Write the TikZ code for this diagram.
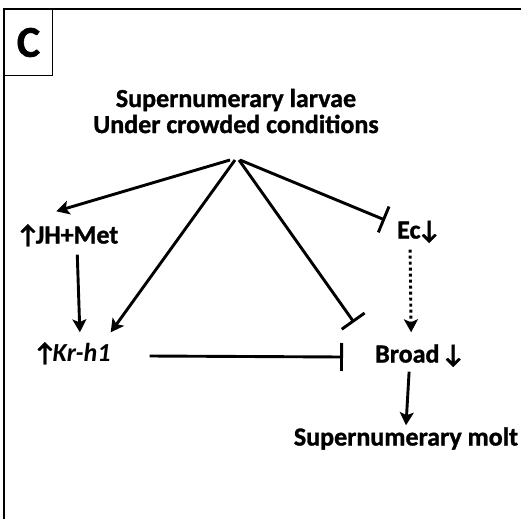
\documentclass[tikz,border=0pt]{standalone}
\usepackage{fontspec}
\setmainfont{Carlito}[BoldFeatures={FakeBold=1.2}]
\usetikzlibrary{arrows.meta,calc,positioning}
\tikzset{
  lbl/.style={font=\bfseries\fontsize{26}{27}\selectfont,inner sep=0pt,text height=18pt,text depth=5pt},
  act/.style={line width=2.9pt,-{Stealth[length=13pt,width=14pt,inset=3pt]}},
  inh/.style={line width=2.9pt,-{Bar[width=28pt]}},
}
\newcommand{\upar}{↑\kern-4pt}
\newcommand{\dnar}{\kern-3pt↓}

\begin{document}
\begin{tikzpicture}[x=1pt,y=1pt]
    \useasboundingbox (0,0) rectangle (521,-519);
    % panel frame and letter
    \draw[line width=1.5pt] (4,-519) |- (521,-9);
    \node[draw,line width=1pt,minimum width=48pt,minimum height=66pt,anchor=north west,
          font=\bfseries\fontsize{44}{44}\selectfont] (panel) at (4,-9) {C};

    \node[font=\bfseries\fontsize{26}{26}\selectfont,align=center,inner sep=0pt] (larvae) at (236,-111)
        {Supernumerary larvae\\Under crowded conditions};
    \coordinate (hub) at (235,-160);

    \node[lbl,anchor=west] (jh) at (16,-237) {\upar JH+Met};
    \node[lbl,anchor=west] (kr) at (33,-355) {\upar\textit{Kr-h1}};
    \node[lbl,anchor=west] (ec) at (397,-232) {Ec\dnar};
    \node[lbl,anchor=west] (broad) at (375,-356) {Broad\kern2pt↓};
    \node[lbl] (molt) at (406,-439) {Supernumerary molt};

    % hub connectors
    \draw[act] ([xshift=-5pt]hub) -- ($(jh.north)+(-11,14)$);
    \draw[act] (hub) -- ($(kr.north east)+(0,11)$);
    \draw[inh] ([xshift=4pt]hub) -- ($(broad.north west)+(-21,22)$);
    \draw[inh] ([xshift=5pt]hub) -- ($(ec.west)+(-12,12)$);

    % pathway
    \draw[act] ($(jh.south)+(10,-6)$) -- ($(kr.north)+(8,11)$);
    \draw[inh] ($(kr.east)+(39,-1)$) -- ($(broad.west)+(-32,-1)$);
    \draw[act,dash pattern=on 3pt off 3pt] ($(ec.south)+(-9,-6)$) -- ($(broad.north)+(-9,12)$);
    \draw[act] ($(broad.south)+(-11,-4)$) -- ($(molt.north)+(0,2)$);
\end{tikzpicture}
\end{document}
